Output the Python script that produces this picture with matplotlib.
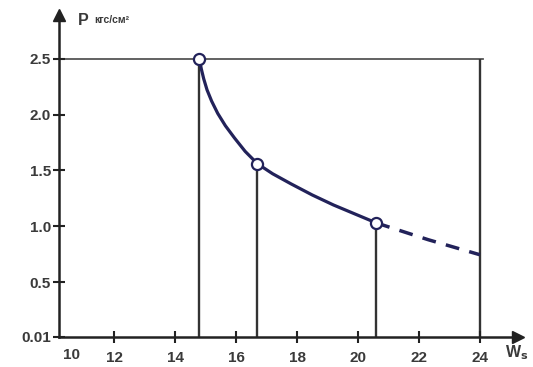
import matplotlib
matplotlib.use("Agg")
import matplotlib.pyplot as plt

plt.rcParams["font.family"] = ["Liberation Sans", "DejaVu Sans"]

# marked points (W, P)
point_w = [14.8, 16.7, 20.6]
point_p = [2.5, 1.56, 1.03]

# solid curve
curve_w = [14.8, 14.86, 14.94, 15.05, 15.2, 15.4, 15.65, 15.95, 16.3, 16.7,
           17.2, 17.8, 18.5, 19.2, 19.9, 20.6]
curve_p = [2.5, 2.41, 2.32, 2.22, 2.12, 2.01, 1.90, 1.79, 1.67, 1.56,
           1.47, 1.38, 1.28, 1.19, 1.11, 1.03]

# dashed extrapolation
dash_w = [20.6, 22.3, 24.0]
dash_p = [1.03, 0.88, 0.745]

p_max = 2.5
w_max = 24

x_ticks = [12, 14, 16, 18, 20, 22, 24]
y_ticks = [0.01, 0.5, 1.0, 1.5, 2.0, 2.5]
y_ticklabels = ["0.01", "0.5", "1.0", "1.5", "2.0", "2.5"]

line_col = "#22225a"
grid_col = "#333333"
text_col = "#3a3a3a"

fig = plt.figure(figsize=(5.33, 3.67), dpi=100)
ax = fig.add_axes([0.111, 0.082, 0.861, 0.877])
ax.set_xlim(10.2, 25.25)
ax.set_ylim(0.01, 2.89)

for s in ["top", "right"]:
    ax.spines[s].set_visible(False)
for s in ["left", "bottom"]:
    ax.spines[s].set_linewidth(1.8)
    ax.spines[s].set_color("#222222")

# arrow heads on axes
ax.plot([0], [1], marker="^", ms=8, color="#222222", transform=ax.transAxes, clip_on=False)
ax.plot([1], [0], marker=">", ms=8, color="#222222", transform=ax.transAxes, clip_on=False)

# reference lines
ax.plot([10.2, w_max + 0.1], [p_max, p_max], color="#555555", lw=1.3, zorder=1)
ax.vlines(w_max, 0.01, p_max, color=grid_col, lw=1.7, zorder=1)
ax.vlines(point_w, 0.01, point_p, color=grid_col, lw=1.7, zorder=1)

ax.plot(curve_w, curve_p, color=line_col, lw=2.3, zorder=2,
        solid_capstyle="round", solid_joinstyle="round")
ax.plot(dash_w, dash_p, color=line_col, lw=2.5, ls=(0, (4, 3)), zorder=2)
ax.plot(point_w, point_p, "o", ms=8, mfc="white", mec=line_col, mew=1.6, zorder=3)

ax.set_xticks(x_ticks)
ax.set_yticks(y_ticks)
ax.set_yticklabels(y_ticklabels)
ax.tick_params(direction="inout", length=8, width=1.5, colors="#222222",
               labelsize=11, labelcolor=text_col)
for lbl in ax.get_xticklabels() + ax.get_yticklabels():
    lbl.set_fontweight("bold")
ax.tick_params(axis="x", pad=6)
ax.tick_params(axis="y", pad=2)

# "10" label sits just right of the y axis
ax.text(10.62, -0.09, "10", ha="center", va="top", fontsize=11,
        fontweight="bold", color=text_col)

fig.text(0.146, 0.945, "P", fontsize=11.5, color=text_col, va="center", fontweight="bold")
fig.text(0.176, 0.945, "кгс/см²", fontsize=7.5, color=text_col, va="center", fontweight="bold")
fig.text(0.948, 0.038, r"W$_\mathbf{s}$", fontsize=11.5, color=text_col, va="center",
         fontweight="bold")

fig.savefig("out.png", dpi=100)
